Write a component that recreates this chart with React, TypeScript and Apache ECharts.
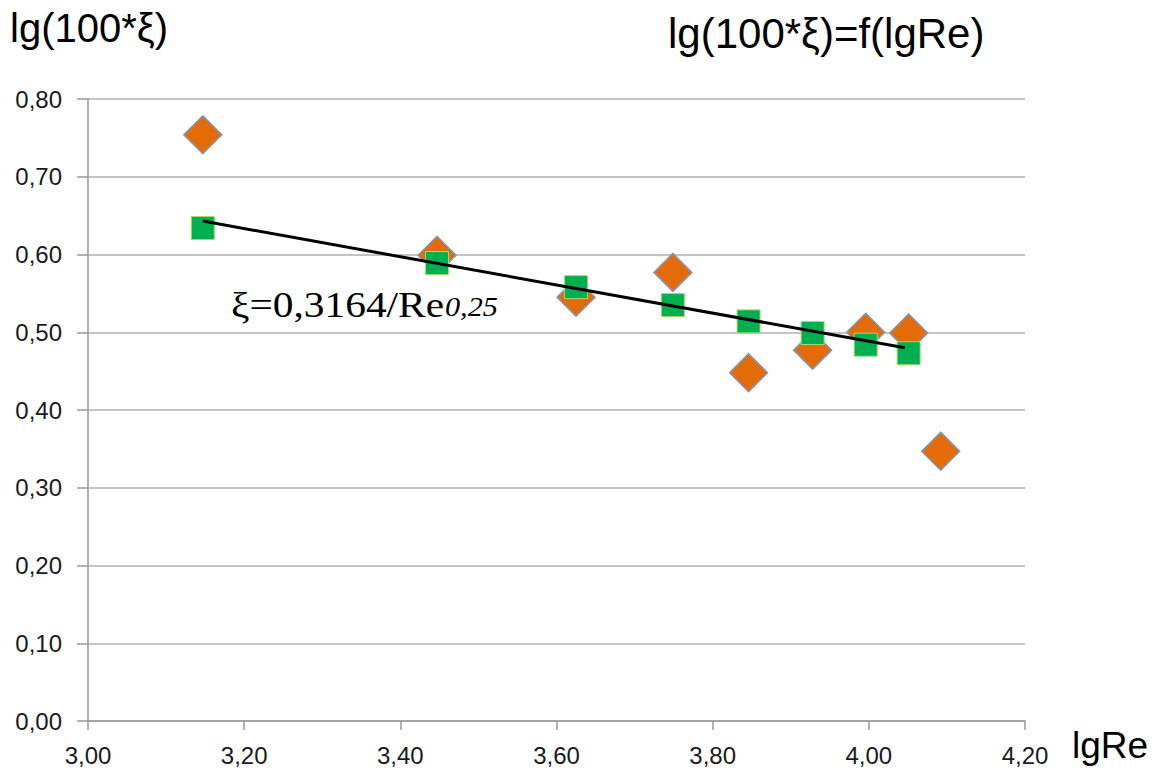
import React, { useEffect, useRef } from "react";
import * as echarts from "echarts";

const measuredX = [3.147, 3.447, 3.625, 3.749, 3.846, 3.928, 3.996, 4.051, 4.092];
const measuredY = [0.754, 0.599, 0.545, 0.577, 0.448, 0.477, 0.5, 0.499, 0.347];
const calcX = [3.147, 3.447, 3.625, 3.749, 3.846, 3.928, 3.996, 4.051];
const calcY = [0.634, 0.589, 0.558, 0.535, 0.514, 0.499, 0.484, 0.473];
const fitX = [3.147, 4.046];
const fitY = [0.643, 0.48];

const SANS = "'Liberation Sans', Arial, sans-serif";
const SERIF = "'Liberation Serif', 'Times New Roman', serif";

const fmt = (v: number) => v.toFixed(2).replace(".", ",");

export default function App() {
  const ref = useRef<HTMLDivElement>(null);
  useEffect(() => {
    if (!ref.current) return;
    const chart = echarts.init(ref.current, null, { renderer: "svg" });
    chart.setOption({
      animation: false,
      backgroundColor: "#ffffff",
      grid: { left: 88, right: 133, top: 99, bottom: 50, containLabel: false },
      xAxis: {
        type: "value",
        min: 3.0,
        max: 4.2,
        interval: 0.2,
        splitLine: { show: false },
        axisLine: { lineStyle: { color: "#999999", width: 1.5 } },
        axisTick: { show: true, length: 9, lineStyle: { color: "#999999", width: 1.5 } },
        axisLabel: {
          formatter: fmt,
          margin: 22,
          fontSize: 24,
          color: "#1a1a1a",
          fontFamily: SANS,
        },
      },
      yAxis: {
        type: "value",
        min: 0,
        max: 0.8,
        interval: 0.1,
        splitLine: { show: true, lineStyle: { color: "#b0b0b0", width: 1.5 } },
        axisLine: { show: true, lineStyle: { color: "#999999", width: 1.5 } },
        axisTick: { show: true, length: 11, lineStyle: { color: "#999999", width: 1.5 } },
        axisLabel: {
          formatter: fmt,
          margin: 26,
          fontSize: 24,
          color: "#1a1a1a",
          fontFamily: SANS,
        },
      },
      series: [
        {
          type: "scatter",
          data: measuredX.map((x, i) => [x, measuredY[i]]),
          symbol: "diamond",
          symbolSize: [38, 38],
          itemStyle: { color: "#E36C09", borderColor: "#8496B8", borderWidth: 1.5, opacity: 1 },
          z: 2,
        },
        {
          type: "scatter",
          data: calcX.map((x, i) => [x, calcY[i]]),
          symbol: "rect",
          symbolSize: [23, 23],
          itemStyle: { color: "#00B050", borderColor: "#A6D86E", borderWidth: 1, opacity: 1 },
          z: 3,
        },
        {
          type: "line",
          data: fitX.map((x, i) => [x, fitY[i]]),
          showSymbol: false,
          symbol: "none",
          lineStyle: { color: "#000000", width: 3 },
          z: 4,
        },
      ],
      graphic: [
        {
          type: "text",
          left: 10,
          top: 8,
          style: { text: "lg(100*ξ)", fontSize: 40, fontFamily: SANS, fill: "#000000" },
        },
        {
          type: "text",
          left: 668,
          top: 12,
          style: { text: "lg(100*ξ)=f(lgRe)", fontSize: 42, fontFamily: SANS, fill: "#000000" },
        },
        {
          type: "text",
          left: 1072,
          top: 727,
          style: { text: "lgRe", fontSize: 37, fontFamily: SANS, fill: "#000000" },
        },
        {
          type: "text",
          x: 231,
          y: 322,
          scaleX: 1.15,
          style: {
            text: "ξ=0,3164/Re",
            fontSize: 36,
            fontFamily: SERIF,
            fill: "#000000",
            verticalAlign: "bottom",
          },
        },
        {
          type: "text",
          x: 445,
          y: 320,
          scaleX: 1.12,
          style: {
            text: "0,25",
            fontSize: 27,
            fontStyle: "italic",
            fontFamily: SERIF,
            fill: "#000000",
            verticalAlign: "bottom",
          },
        },
      ],
    });
    return () => chart.dispose();
  }, []);
  return (
    <div
      ref={ref}
      style={{ position: "fixed", left: 0, top: 0, width: 1158, height: 771 }}
    />
  );
}
